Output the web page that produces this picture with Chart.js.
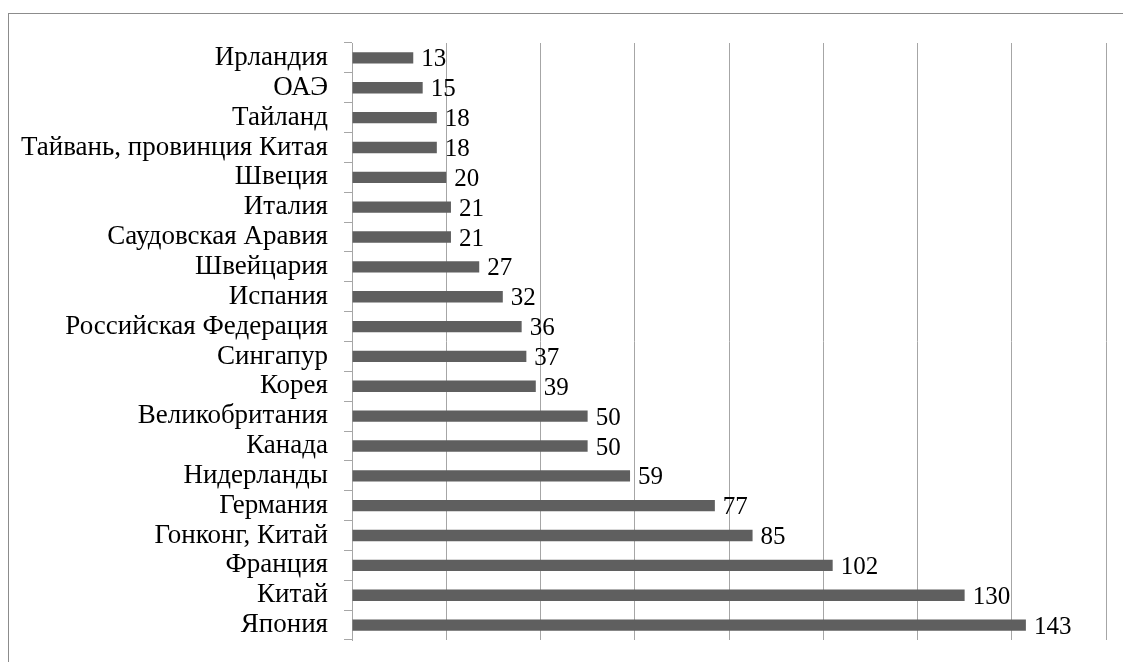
<!DOCTYPE html>
<html>
<head>
<meta charset="utf-8">
<script src="https://cdn.jsdelivr.net/npm/chart.js@4/dist/chart.umd.min.js"></script>
<style>
  html, body { margin: 0; padding: 0; background: #fff; }
  #wrap { position: relative; width: 1123px; height: 662px; overflow: hidden; }
  #frame { position: absolute; left: 8px; top: 13px; width: 1200px; height: 700px; border: 1px solid #8c8c8c; box-sizing: border-box; }
  canvas { position: absolute; left: 0; top: 0; }
</style>
</head>
<body>
<div id="wrap">
  <div id="frame"></div>
  <canvas id="chart" width="1123" height="662"></canvas>
</div>
<script>
const countries = [
  "Ирландия", "ОАЭ", "Тайланд", "Тайвань, провинция Китая", "Швеция",
  "Италия", "Саудовская Аравия", "Швейцария", "Испания", "Российская Федерация",
  "Сингапур", "Корея", "Великобритания", "Канада", "Нидерланды",
  "Германия", "Гонконг, Китай", "Франция", "Китай", "Япония"
];
const values = [13, 15, 18, 18, 20, 21, 21, 27, 32, 36, 37, 39, 50, 50, 59, 77, 85, 102, 130, 143];
const xMin = 0;
const xMax = 160;
const xStep = 20;

const FONT = "'Liberation Serif', 'Times New Roman', serif";

// value labels to the right of each bar
const valueLabels = {
  id: "valueLabels",
  afterDatasetsDraw(chart) {
    const ctx = chart.ctx;
    const meta = chart.getDatasetMeta(0);
    ctx.save();
    ctx.font = "25px " + FONT;
    ctx.fillStyle = "#000";
    ctx.textAlign = "left";
    ctx.textBaseline = "middle";
    meta.data.forEach((bar, i) => {
      ctx.fillText(String(values[i]), bar.x + 8, bar.y + 2);
    });
    ctx.restore();
  }
};

new Chart(document.getElementById("chart"), {
  type: "bar",
  data: {
    labels: countries,
    datasets: [{
      data: values,
      backgroundColor: "#5f5f5f",
      barPercentage: 0.38,
      categoryPercentage: 1
    }]
  },
  options: {
    indexAxis: "y",
    responsive: false,
    animation: false,
    events: [],
    layout: { padding: { left: 0, top: 43, right: 17, bottom: 22 } },
    plugins: { legend: { display: false }, tooltip: { enabled: false } },
    scales: {
      x: {
        min: xMin,
        max: xMax,
        ticks: { display: false, stepSize: xStep },
        grid: { color: "#a6a6a6", lineWidth: 1, drawTicks: false },
        border: { display: false },
        afterFit(scale) { scale.height = 0; }
      },
      y: {
        ticks: { color: "#000", font: { family: FONT, size: 27 }, padding: 16, autoSkip: false },
        grid: { drawOnChartArea: false, drawTicks: true, tickLength: 8, color: "#a6a6a6", offset: true },
        border: { display: true, color: "#a6a6a6" },
        afterFit(scale) {
          scale.width = 352;
          scale.paddingTop = 0;
          scale.paddingBottom = 0;
        }
      }
    }
  },
  plugins: [valueLabels]
});
</script>
</body>
</html>
